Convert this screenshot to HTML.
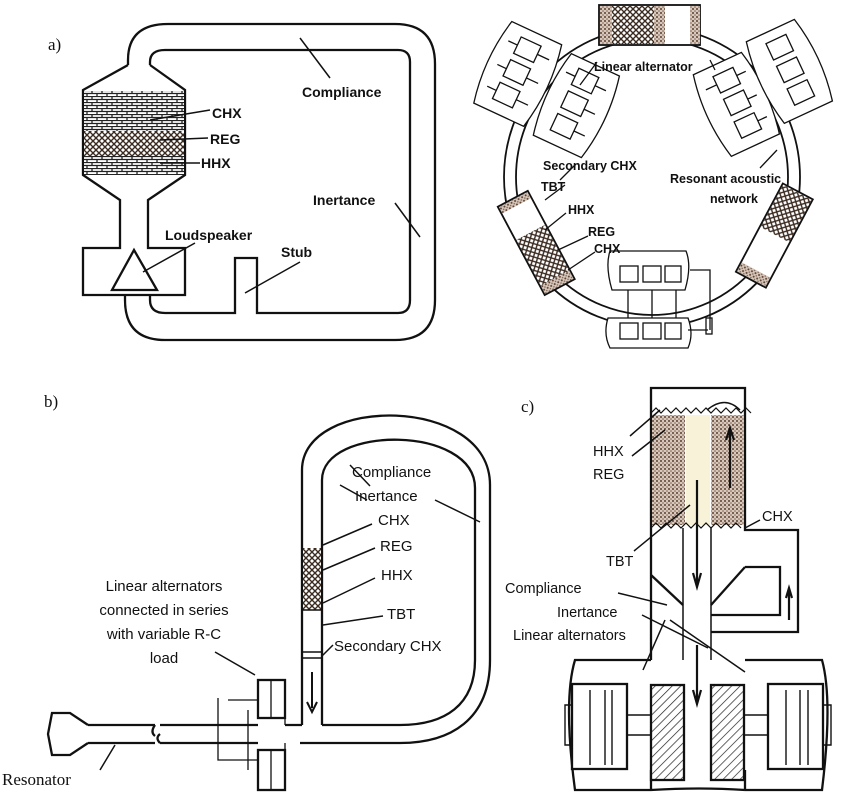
<!DOCTYPE html>
<html><head><meta charset="utf-8"><style>
html,body{margin:0;padding:0;background:#fff;}
svg{display:block;}
text{font-family:"Liberation Sans",sans-serif;font-weight:bold;fill:#111;}
.s{font-family:"Liberation Serif",serif;font-weight:normal;}
</style></head><body>
<svg width="850" height="794" viewBox="0 0 850 794" xmlns="http://www.w3.org/2000/svg">
<defs>
<pattern id="brick" width="10" height="6" patternUnits="userSpaceOnUse">
<rect width="10" height="6" fill="#fff"/><path d="M0 0.5H10M0 3.5H10M2 0V3M7 3V6" stroke="#222" stroke-width="1.3"/></pattern>
<pattern id="cross" width="6" height="6" patternUnits="userSpaceOnUse">
<rect width="6" height="6" fill="#fff"/><path d="M0 0L6 6M6 0L0 6" stroke="#3a2a20" stroke-width="1.4"/></pattern>
<pattern id="hatch" width="6" height="6" patternUnits="userSpaceOnUse" patternTransform="rotate(45)">
<rect width="6" height="6" fill="#fff"/><path d="M0 0V6" stroke="#222" stroke-width="1.4"/></pattern>
<pattern id="dots" width="4" height="4" patternUnits="userSpaceOnUse">
<rect width="4" height="4" fill="#d8c8bc"/><circle cx="1" cy="1" r="1" fill="#5a4030"/><circle cx="3" cy="3" r="0.8" fill="#7a6050"/></pattern>
</defs>
<g fill="none" stroke="#111" stroke-width="2.3">
<!-- Panel a left -->
<path d="M128 65 L128 60 Q128 24 168 24 L395 24 Q435 24 435 64 L435 300 Q435 340 395 340 L165 340 Q125 340 125 300 L125 295"/>
<path d="M150 65 L150 62 Q150 50 165 50 L398 50 Q410 50 410 62 L410 300 Q410 313 398 313 L257 313 L257 258 L235 258 L235 313 L165 313 Q150 313 150 300 L150 295"/>
<path d="M128 65 L83 90 L83 175 L120 200 L120 248 L83 248 L83 295 L185 295 L185 248 L148 248 L148 200 L185 175 L185 90 L150 65"/>
<rect x="84" y="91" width="100" height="40" fill="url(#brick)" stroke="none"/>
<rect x="84" y="131" width="100" height="25" fill="url(#cross)" stroke="none"/>
<rect x="84" y="156" width="100" height="19" fill="url(#brick)" stroke="none"/>
<path d="M112 290 L157 290 L134 250 Z" fill="#fff"/>
<path d="M300 38 L330 78M150 120 L210 110M160 140 L208 138M160 163 L200 163M395 203 L420 237M143 272 L195 243M245 293 L300 262" stroke-width="1.5"/>
</g>
<text class="s" x="48" y="50" font-size="17">a)</text>
<text x="302" y="97" font-size="14">Compliance</text>
<text x="212" y="118" font-size="14">CHX</text>
<text x="210" y="144" font-size="14">REG</text>
<text x="201" y="168" font-size="14">HHX</text>
<text x="313" y="205" font-size="14">Inertance</text>
<text x="165" y="240" font-size="14">Loudspeaker</text>
<text x="281" y="257" font-size="14">Stub</text>

<!-- Ring panel -->
<g fill="none" stroke="#111" stroke-width="1.8">
<ellipse cx="652" cy="177" rx="148" ry="150"/>
<ellipse cx="652" cy="177" rx="136" ry="138"/>
<rect x="599" y="5" width="101" height="40" fill="#fff"/>
<rect x="600" y="6" width="12" height="38" fill="url(#dots)" stroke="none"/>
<rect x="612" y="6" width="42" height="38" fill="url(#cross)" stroke="none"/>
<rect x="654" y="6" width="11" height="38" fill="url(#dots)" stroke="none"/>
<rect x="690" y="6" width="10" height="38" fill="url(#dots)" stroke="none"/>
<g transform="translate(540,250) rotate(-28)">
<rect x="-17" y="-58" width="34" height="100" fill="#fff"/>
<rect x="-16" y="-57" width="32" height="7" fill="url(#dots)" stroke="none"/>
<rect x="-16" y="-20" width="32" height="52" fill="url(#cross)" stroke="none"/>
<rect x="-16" y="32" width="32" height="9" fill="url(#dots)" stroke="none"/>
</g>
<g transform="translate(772,240) rotate(28)">
<rect x="-17" y="-55" width="34" height="100" fill="#fff"/>
<rect x="-16" y="-54" width="32" height="48" fill="url(#cross)" stroke="none"/>
<rect x="-16" y="34" width="32" height="10" fill="url(#dots)" stroke="none"/>
</g>
<g stroke-width="1.3">
<g transform="translate(520,75) rotate(25)">
<path d="M-30 -45 Q-40 0 -30 45 L25 45 Q35 0 25 -45 Z" fill="#fff"/>
<rect x="-15" y="-35" width="22" height="18"/><rect x="-15" y="-10" width="22" height="18"/><rect x="-15" y="15" width="22" height="18"/>
<path d="M7 -26 H20 M7 0 H20 M7 24 H20 M-15 -26 H-25 M-15 0 H-25 M-15 24 H-25"/>
</g>
<g transform="translate(575,105) rotate(25)">
<path d="M-25 -45 Q-35 0 -25 45 L28 45 Q38 0 28 -45 Z" fill="#fff"/>
<rect x="-12" y="-35" width="22" height="18"/><rect x="-12" y="-10" width="22" height="18"/><rect x="-12" y="15" width="22" height="18"/>
<path d="M10 -26 H22 M10 0 H22 M10 24 H22 M-12 -26 H-22"/>
</g>
<g transform="translate(735,105) rotate(-25)">
<path d="M-25 -45 Q-35 0 -25 45 L28 45 Q38 0 28 -45 Z" fill="#fff"/>
<rect x="-8" y="-35" width="22" height="18"/><rect x="-8" y="-10" width="22" height="18"/><rect x="-8" y="15" width="22" height="18"/>
<path d="M14 -26 H24 M14 0 H24 M14 24 H24 M-8 -26 H-20"/>
</g>
<g transform="translate(788,72) rotate(-25)">
<path d="M-25 -45 Q-35 0 -25 45 L28 45 Q38 0 28 -45 Z" fill="#fff"/>
<rect x="-8" y="-35" width="22" height="18"/><rect x="-8" y="-10" width="22" height="18"/><rect x="-8" y="15" width="22" height="18"/>
</g>
<path d="M610 251 Q605 266 612 290 L685 290 Q692 266 686 251 Z" fill="#fff"/>
<rect x="620" y="266" width="18" height="16"/><rect x="643" y="266" width="18" height="16"/><rect x="665" y="266" width="16" height="16"/>
<path d="M608 318 Q603 334 610 348 L688 348 Q694 334 688 318 Z" fill="#fff"/>
<rect x="620" y="323" width="18" height="16"/><rect x="643" y="323" width="18" height="16"/><rect x="665" y="323" width="16" height="16"/>
<path d="M628 290 V318 M652 290 V318 M676 290 V318 M690 270 H710 V330 M708 330 H688"/>
<rect x="706" y="318" width="6" height="16"/>
<path d="M597 62 L580 85 M715 70 L710 60 M777 150 L760 168 M576 164 L560 180 M565 185 L545 200 M566 213 L545 230 M588 236 L558 250 M595 252 L568 270"/>
</g>
</g>
<g font-size="12.5">
<text x="594" y="71">Linear alternator</text>
<text x="543" y="170">Secondary CHX</text>
<text x="541" y="191">TBT</text>
<text x="568" y="214">HHX</text>
<text x="588" y="236">REG</text>
<text x="594" y="253">CHX</text>
<text x="670" y="183">Resonant acoustic</text>
<text x="710" y="203">network</text>
</g>

<!-- Panel b -->
<g fill="none" stroke="#111" stroke-width="2.3">
<path d="M302 725 L302 470 C302 395 490 395 490 485 L490 660 C490 720 450 743 400 743 L300 743"/>
<path d="M322 725 L322 480 C322 425 475 425 475 488 L475 660 C475 705 445 725 400 725 L322 725"/>
<rect x="303" y="548" width="18" height="62" fill="url(#cross)" stroke="none"/>
<path d="M302 610 H322 M302 652 H322 M302 658 H322" stroke-width="1.5"/>
<path d="M312 672 V708 M307 702 L312 712 L317 702" stroke-width="2"/>
<path d="M302 725 H285 M258 725 H160 M155 725 Q150 732 155 736 M155 743 H88 M258 743 H160 M160 743 Q155 738 160 734 M88 725 L70 713 L52 713 L48 734 L52 755 L70 755 L88 743"/>
<path d="M88 725 H155"/>
<rect x="258" y="680" width="27" height="38" fill="#fff"/>
<rect x="258" y="750" width="27" height="40" fill="#fff"/>
<path d="M271 680 V718 M271 750 V790 M228 700 H258 M218 698 V760 H258 M248 710 V770 M285 743 V750 M285 718 V725" stroke-width="1.3"/>
<path d="M350 465 L370 486 M367 500 L340 485 M372 524 L323 545 M375 548 L323 570 M375 578 L323 603 M383 616 L323 625 M333 645 L322 656 M435 500 L480 522 M215 652 L255 675 M100 770 L115 745" stroke-width="1.5"/>
</g>
<text class="s" x="44" y="407" font-size="17">b)</text>
<g font-size="15">
<text x="352" y="477" style="font-weight:normal">Compliance</text>
<text x="355" y="501" style="font-weight:normal">Inertance</text>
<text x="378" y="525" style="font-weight:normal">CHX</text>
<text x="380" y="551" style="font-weight:normal">REG</text>
<text x="381" y="580" style="font-weight:normal">HHX</text>
<text x="387" y="619" style="font-weight:normal">TBT</text>
<text x="334" y="651" style="font-weight:normal">Secondary CHX</text>
<text x="164" y="591" text-anchor="middle" style="font-weight:normal">Linear alternators</text>
<text x="164" y="615" text-anchor="middle" style="font-weight:normal">connected in series</text>
<text x="164" y="639" text-anchor="middle" style="font-weight:normal">with variable R-C</text>
<text x="164" y="663" text-anchor="middle" style="font-weight:normal">load</text>
</g>
<text class="s" x="2" y="785" font-size="17">Resonator</text>

<!-- Panel c -->
<g fill="none" stroke="#111" stroke-width="2.3">
<path d="M651 660 V388 H745 V530 H798 V632 H711"/>
<path d="M745 567 H780 V615 H711"/>
<path d="M745 567 L711 605"/>
<path d="M651 575 L683 605"/>
<rect x="652" y="415" width="33" height="110" fill="url(#dots)" stroke="none"/>
<rect x="711" y="415" width="33" height="110" fill="url(#dots)" stroke="none"/>
<rect x="686" y="415" width="24" height="110" fill="#f7f2d8" stroke="none"/>
<path d="M651 413 l5 -5 5 5 5 -5 5 5 5 -5 5 5 5 -5 5 5 5 -5 5 5 5 -5 5 5 5 -5 5 5 5 -5 5 5 5 -5 5 5 5 -5 5 5 M651 528 l5 -5 5 5 5 -5 5 5 5 -5 5 5 5 -5 5 5 5 -5 5 5 5 -5 5 5 5 -5 5 5 5 -5 5 5 5 -5 5 5" stroke-width="1.2"/>
<path d="M683 528 V660 M711 528 V660 M707 410 Q725 395 740 410" stroke-width="1.5"/>
<path d="M697 480 V583 M693 573 L697 587 L701 573 M730 430 V488 M726 440 L730 428 L734 440 M789 590 V620 M786 598 L789 588 L792 598 M697 645 V700 M693 690 L697 704 L701 690" stroke-width="2.2"/>
<path d="M651 660 H575 Q563 700 575 790 H651 V780 M745 660 H822 Q833 700 822 790 H745 M651 790 V770 M745 790 V770 M651 790 Q700 787 745 790"/>
<rect x="651" y="685" width="33" height="95" fill="url(#hatch)"/>
<rect x="711" y="685" width="33" height="95" fill="url(#hatch)"/>
<rect x="572" y="684" width="55" height="85" fill="#fff"/>
<rect x="768" y="684" width="55" height="85" fill="#fff"/>
<path d="M590 690 V765 M605 690 V765 M612 690 V765 M786 690 V765 M800 690 V765 M808 690 V765 M627 715 H651 M627 735 H651 M744 715 H768 M744 735 H768 M565 705 H572 V745 H565 Z M823 705 H831 V745 H823" stroke-width="1.4"/>
<path d="M630 436 L660 410 M632 456 L665 430 M634 551 L690 505 M618 593 L667 605 M642 615 L708 648 M665 620 L643 670 M670 620 L745 672 M760 520 L745 528" stroke-width="1.5"/>
</g>
<text class="s" x="521" y="412" font-size="17">c)</text>
<g font-size="14.5">
<text x="593" y="456" style="font-weight:normal">HHX</text>
<text x="593" y="479" style="font-weight:normal">REG</text>
<text x="762" y="521" style="font-weight:normal">CHX</text>
<text x="606" y="566" style="font-weight:normal">TBT</text>
<text x="505" y="593" style="font-weight:normal">Compliance</text>
<text x="557" y="617" style="font-weight:normal">Inertance</text>
<text x="513" y="640" style="font-weight:normal">Linear alternators</text>
</g>
</svg>
</body></html>
